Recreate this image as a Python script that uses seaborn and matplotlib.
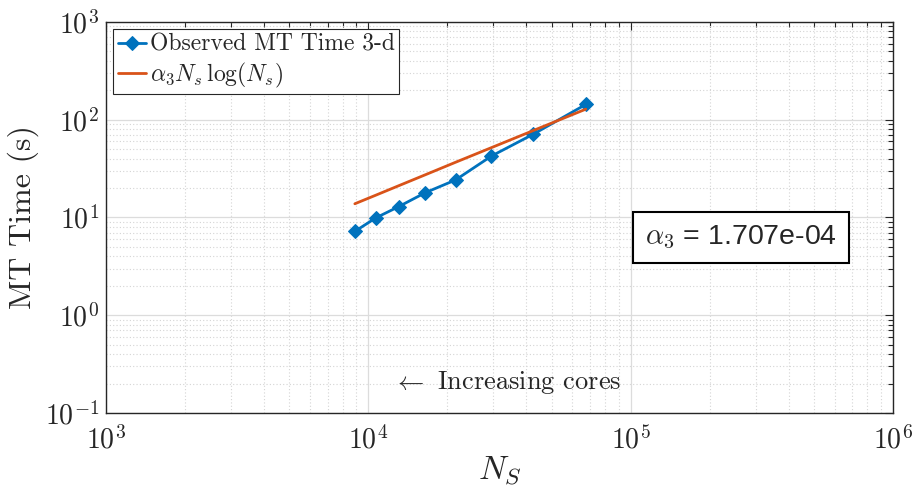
import matplotlib
matplotlib.use("Agg")
import matplotlib.pyplot as plt
import seaborn as sns
import pandas as pd
import numpy as np
from matplotlib.ticker import LogLocator, NullFormatter

# Data
n_s = [8890, 10690, 13060, 16490, 21530, 29500, 42560, 67450]
mt_time = [7.2, 9.9, 12.9, 17.9, 24.2, 42.5, 71.0, 143.0]
fit_time = [13.8, 16.9, 21.1, 27.3, 36.7, 51.8, 77.4, 128.0]
alpha_label = "1.707e-04"

sns.set_style("white")
plt.rcParams['font.family'] = ['cmr10']
plt.rcParams['mathtext.fontset'] = 'cm'
plt.rcParams['axes.formatter.use_mathtext'] = True
plt.rcParams['axes.unicode_minus'] = False

blue = "#0072BD"
orange = "#D95319"

fig = plt.figure(figsize=(9.13, 4.87), dpi=100)
ax = fig.add_axes([0.116, 0.152, 0.862, 0.803])

df_obs = pd.DataFrame({"N": n_s, "T": mt_time})
df_fit = pd.DataFrame({"N": n_s, "T": fit_time})

sns.lineplot(data=df_obs, x="N", y="T", ax=ax, color=blue, marker="D",
             markersize=7.5, markeredgecolor=blue, linewidth=2,
             label="Observed MT Time 3-d", zorder=3)
sns.lineplot(data=df_fit, x="N", y="T", ax=ax, color=orange, linewidth=2,
             label=r"$\alpha_3 N_s\,\log(N_s)$", zorder=3)

ax.set_xscale("log")
ax.set_yscale("log")
ax.set_xlim(1e3, 1e6)
ax.set_ylim(1e-1, 1e3)

ax.xaxis.set_major_locator(LogLocator(base=10, numticks=10))
ax.yaxis.set_major_locator(LogLocator(base=10, numticks=10))
ax.xaxis.set_minor_locator(LogLocator(base=10, subs=np.arange(2, 10), numticks=20))
ax.yaxis.set_minor_locator(LogLocator(base=10, subs=np.arange(2, 10), numticks=20))
ax.xaxis.set_minor_formatter(NullFormatter())
ax.yaxis.set_minor_formatter(NullFormatter())

ax.grid(True, which="major", color="#dcdcdc", linestyle="-", linewidth=0.9)
ax.grid(True, which="minor", color="#d4d4d4", linestyle=(0, (1, 2)), linewidth=0.8)
ax.set_axisbelow(True)

ax.tick_params(which="both", direction="in", top=True, right=True,
               colors="#262626", labelcolor="#262626")
ax.tick_params(which="major", length=6, width=0.8, labelsize=20)
ax.tick_params(axis="x", which="major", pad=9)
ax.tick_params(axis="y", which="major", pad=5)
ax.tick_params(which="minor", length=3.5, width=0.8)
for sp in ax.spines.values():
    sp.set_color("#262626")
    sp.set_linewidth(1.0)

ax.set_xlabel(r"$N_S$", fontsize=24, color="#262626", labelpad=0)
ax.set_ylabel("MT Time (s)", fontsize=23, color="#262626", labelpad=4)

leg = ax.legend(loc="upper left", fontsize=17, frameon=True, fancybox=False,
                edgecolor="#262626", framealpha=1, borderpad=0.2,
                handlelength=1.2, handletextpad=0.15, labelspacing=0.2,
                borderaxespad=0.3)
leg.get_frame().set_linewidth(0.8)

ax.text(0.685, 0.449, r"$\alpha_{\mathsf{3}}$ = " + alpha_label, transform=ax.transAxes,
        fontsize=20.5, family=["Liberation Sans", "DejaVu Sans"], va="center", ha="left",
        bbox=dict(boxstyle="square,pad=0.42", facecolor="white",
                  edgecolor="black", linewidth=1.5))

ax.text(0.51, 0.079, r"$\leftarrow$ Increasing cores", transform=ax.transAxes,
        fontsize=19, ha="center", va="center", color="#262626")

fig.savefig("out.png", dpi=100)
